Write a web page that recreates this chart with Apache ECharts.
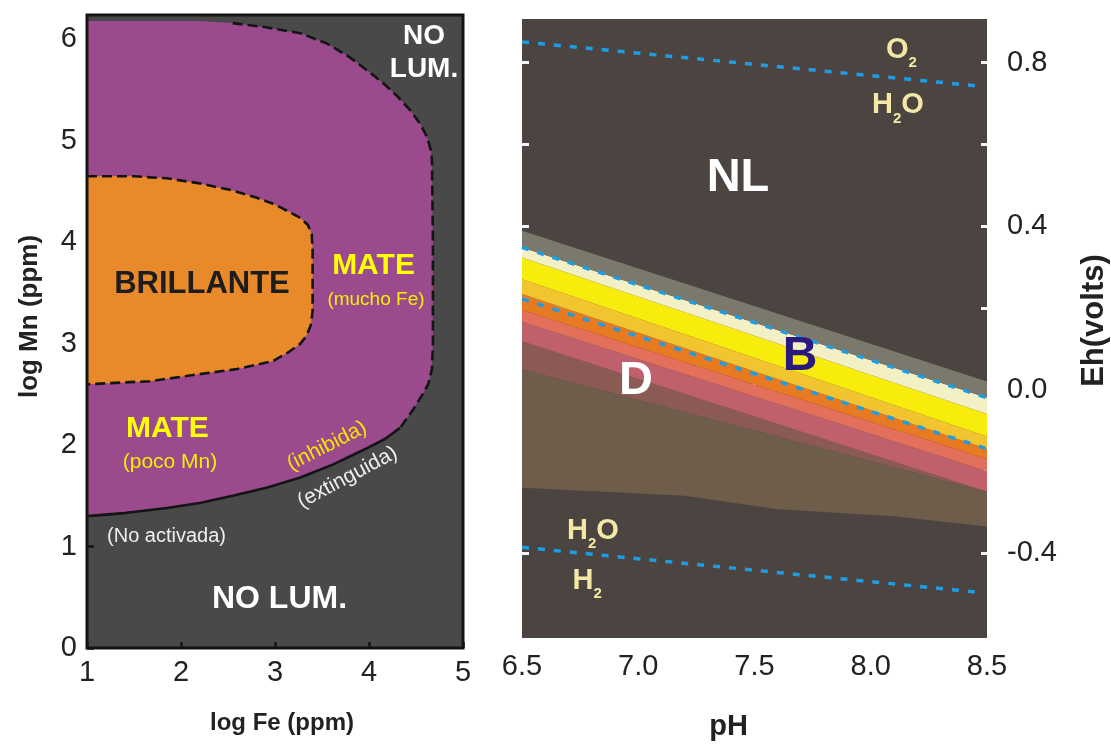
<!DOCTYPE html>
<html><head><meta charset="utf-8">
<script src="https://cdn.jsdelivr.net/npm/echarts@6/dist/echarts.min.js"></script>
<style>html,body{margin:0;padding:0;background:#fff;}#c{width:1111px;height:746px;}</style>
</head><body><div id="c"></div>
<script>
// ---------------- DATA ----------------
// Left panel: log Fe (x) vs log Mn (y)
const feTicks = [1, 2, 3, 4, 5];
const mnTicks = [0, 1, 2, 3, 4, 5, 6];
// MATE (purple) region outline [logFe, logMn]
const mateRegion = [[1,6.18],[2.2,6.18],[2.55,6.16],[2.9,6.12],[3.27,6.06],[3.55,5.96],[3.8,5.82],[4.0,5.68],[4.15,5.57],[4.3,5.44],[4.44,5.3],[4.55,5.16],[4.62,5.03],[4.66,4.9],[4.67,4.8],[4.68,4.0],[4.68,3.0],[4.67,2.75],[4.63,2.6],[4.57,2.5],[4.47,2.35],[4.33,2.17],[4.17,2.06],[3.98,1.97],[3.8,1.89],[3.62,1.81],[3.27,1.68],[2.91,1.58],[2.55,1.5],[2.2,1.43],[1.85,1.38],[1.4,1.33],[1,1.3]];
// BRILLANTE (orange) region outline
const brillanteRegion = [[1,4.65],[1.5,4.65],[1.85,4.63],[2.2,4.58],[2.55,4.51],[2.8,4.44],[2.98,4.38],[3.15,4.3],[3.27,4.24],[3.35,4.17],[3.39,4.08],[3.4,3.92],[3.4,3.32],[3.38,3.18],[3.33,3.07],[3.27,3.0],[3.15,2.92],[2.98,2.83],[2.6,2.75],[2.2,2.7],[1.67,2.63],[1,2.6]];
const mateDashed = mateRegion.slice(2, 22);
const mateSolid = mateRegion.slice(21);

// Right panel: pH (x) vs Eh (y)
const phTicks = [6.5, 7.0, 7.5, 8.0, 8.5];
const ehLabelTicks = [-0.4, 0.0, 0.4, 0.8];
const ehMinorTicks = [-0.4, -0.2, 0.0, 0.2, 0.4, 0.6, 0.8];
// band boundary lines [pH, Eh]
const grayTop    = [[6.5,0.389],[8.5,0.02]];
const creamTop   = [[6.5,0.348],[8.5,-0.02]];
const yellowTop  = [[6.5,0.323],[8.5,-0.06]];
const goldTop    = [[6.5,0.270],[8.5,-0.115]];
const orangeTop  = [[6.5,0.234],[8.5,-0.145]];
const salmonTop  = [[6.5,0.195],[8.5,-0.17]];
const pinkTop    = [[6.5,0.166],[8.5,-0.20]];
const rosyTop    = [[6.5,0.118],[8.5,-0.25]];
const oliveTop   = [[6.5,0.05],[8.5,-0.25]];
const oliveBottom= [[6.5,-0.24],[7.2,-0.26],[7.6,-0.293],[8.1,-0.31],[8.5,-0.335]];
// water stability & band limit lines
const o2Line    = [[6.5,0.851],[8.48,0.742]];
const h2Line    = [[6.5,-0.386],[8.48,-0.497]];
const upperBLine= [[6.5,0.348],[8.5,-0.02]];
const lowerBLine= [[6.5,0.222],[8.5,-0.145]];

// annotations
const leftNotes = [
  {t:'NO\nLUM.', x:4.585, y:5.87, k:'noLumTop'},
  {t:'BRILLANTE', x:2.223, y:3.585, k:'bright'},
  {t:'MATE', x:4.048, y:3.767, k:'mate'},
  {t:'(mucho Fe)', x:4.074, y:3.432, k:'mateSub1'},
  {t:'MATE', x:1.856, y:2.165, k:'mate'},
  {t:'(poco Mn)', x:1.883, y:1.834, k:'mateSub2'},
  {t:'(inhibida)', x:3.553, y:1.992, k:'inhib'},
  {t:'(extinguida)', x:3.771, y:1.681, k:'ext'},
  {t:'(No activada)', x:1.846, y:1.095, k:'noact'},
  {t:'NO LUM.', x:3.048, y:0.478, k:'noLum'}
];
const rightNotes = [
  {t:'NL', x:7.429, y:0.517, k:'big'},
  {t:'B', x:7.696, y:0.080, k:'bigB'},
  {t:'D', x:6.99, y:0.022, k:'big'},
  {t:'{n|O}{s|2}', x:8.132, y:0.825, k:'chem'},
  {t:'{n|H}{s|2}{n|O}', x:8.117, y:0.688, k:'chem'},
  {t:'{n|H}{s|2}{n|O}', x:6.805, y:-0.353, k:'chem'},
  {t:'{n|H}{s|2}', x:6.78, y:-0.476, k:'chem'}
];

// ---------------- STYLE ----------------
const FONT = '"Liberation Sans", Arial, Helvetica, sans-serif';
const CREAM = '#f3e8a6';
const noteStyles = {
  noLumTop: {color:'#ffffff', fontSize:28, fontWeight:'bold', lineHeight:33},
  bright:   {color:'#1d1d1d', fontSize:31, fontWeight:'bold'},
  mate:     {color:'#ffff00', fontSize:30, fontWeight:'bold'},
  mateSub1: {color:'#f4ee00', fontSize:19},
  mateSub2: {color:'#f4ee00', fontSize:21},
  inhib:    {color:'#f4e600', fontSize:21, rotate:27},
  ext:      {color:'#eeeeee', fontSize:21, rotate:28},
  noact:    {color:'#eeeeee', fontSize:20},
  noLum:    {color:'#ffffff', fontSize:32, fontWeight:'bold'},
  big:      {color:'#ffffff', fontSize:47, fontWeight:'bold'},
  bigB:     {color:'#2a1a7e', fontSize:48, fontWeight:'bold'},
  chem:     {color:CREAM, rich:{
               n:{fontSize:29, fontWeight:'bold', color:CREAM, fontFamily:FONT, verticalAlign:'top', padding:[0,0,6,0]},
               s:{fontSize:15, fontWeight:'bold', color:CREAM, fontFamily:FONT, verticalAlign:'bottom'}}}
};

function polySeries(pts, color, xi, yi, z) {
  return {type:'custom', xAxisIndex:xi, yAxisIndex:yi, silent:true, z:z, animation:false,
    data:[[pts[0][0], pts[0][1]]],
    renderItem:(p, api) => ({type:'polygon', shape:{points: pts.map(q => api.coord(q))}, style:{fill:color}})};
}
function bandSeries(top, bottom, color, z) {
  return polySeries(top.concat(bottom.slice().reverse()), color, 1, 1, z);
}
function lineSeries(pts, xi, yi, style, z) {
  return {type:'line', xAxisIndex:xi, yAxisIndex:yi, data:pts, symbol:'none', silent:true, z:z,
    lineStyle:style, animation:false};
}
function notesSeries(notes, xi, yi) {
  return {type:'scatter', xAxisIndex:xi, yAxisIndex:yi, symbolSize:0, silent:true, z:20,
    itemStyle:{opacity:1},
    data: notes.map(n => {
      const st = noteStyles[n.k];
      return {value:[n.x, n.y], itemStyle:{opacity:1}, label:Object.assign({show:true, position:'inside', formatter:n.t,
        fontFamily:FONT, align:'center', verticalAlign:'middle', opacity:1}, st)};
    })};
}
function frameSeries() {
  return {type:'custom', xAxisIndex:0, yAxisIndex:0, silent:true, z:30, data:[[1,0]],
    renderItem:(p, api) => {
      const a = api.coord([feTicks[0], 0]), b = api.coord([feTicks[feTicks.length-1], 6.24]);
      return {type:'rect', shape:{x:a[0], y:b[1], width:b[0]-a[0], height:a[1]-b[1]},
        style:{fill:'none', stroke:'#141414', lineWidth:3}};
    }};
}

const axisLabelBase = {fontFamily:FONT, fontSize:29, color:'#222'};
const option = {
  animation:false,
  backgroundColor:'#ffffff',
  grid:[
    {left:87, top:15, width:376, height:633, show:true, backgroundColor:'#494949', borderWidth:0},
    {left:522, top:19, width:465, height:626, show:true, backgroundColor:'#4c4441', borderWidth:0}
  ],
  xAxis:[
    {gridIndex:0, type:'value', min:1, max:5, interval:1,
     axisLine:{show:false}, splitLine:{show:false},
     axisTick:{inside:true, length:6, lineStyle:{color:'#141414', width:2.5}},
     axisLabel:Object.assign({margin:10, customValues:feTicks}, axisLabelBase),
     name:'log Fe (ppm)', nameLocation:'middle', nameGap:63,
     nameTextStyle:{fontFamily:FONT, fontSize:24, fontWeight:'bold', color:'#222', padding:[0,0,0,14]}},
    {gridIndex:1, type:'value', min:6.5, max:8.5, interval:0.5,
     axisLine:{show:false}, splitLine:{show:false},
     axisTick:{inside:true, length:6, customValues:phTicks.slice(1,-1), lineStyle:{color:'#dcdcdc', width:3}},
     axisLabel:Object.assign({margin:14, customValues:phTicks, formatter:v => v.toFixed(1)}, axisLabelBase),
     name:'pH', nameLocation:'middle', nameGap:74,
     nameTextStyle:{fontFamily:FONT, fontSize:29, fontWeight:'bold', color:'#222', padding:[0,52,0,0]}},
  ],
  yAxis:[
    {gridIndex:0, type:'value', min:0, max:6.24,
     axisLine:{show:false}, splitLine:{show:false},
     axisTick:{inside:true, length:7, customValues:mnTicks, lineStyle:{color:'#141414', width:2.5}},
     axisLabel:Object.assign({margin:10, customValues:mnTicks}, axisLabelBase),
     name:'log Mn (ppm)', nameLocation:'middle', nameGap:44, nameRotate:90,
     nameTextStyle:{fontFamily:FONT, fontSize:26, fontWeight:'bold', color:'#222', padding:[0,0,0,30]}},
    {gridIndex:1, type:'value', position:'right', min:-0.608, max:0.907,
     axisLine:{show:false}, splitLine:{show:false},
     axisTick:{inside:true, length:6, customValues:ehMinorTicks, lineStyle:{color:'#f6f6f6', width:3}},
     axisLabel:Object.assign({margin:20, customValues:ehLabelTicks, formatter:v => v.toFixed(1)}, axisLabelBase),
     name:'Eh(volts)', nameLocation:'middle', nameGap:92, nameRotate:90,
     nameTextStyle:{fontFamily:FONT, fontSize:31, fontWeight:'bold', color:'#222', padding:[0,0,0,16]}},
    {gridIndex:1, type:'value', position:'left', min:-0.608, max:0.907,
     axisLine:{show:false}, splitLine:{show:false}, axisLabel:{show:false},
     axisTick:{inside:true, length:7, customValues:ehMinorTicks, lineStyle:{color:'#f6f6f6', width:3}}}
  ],
  series:[
    // left panel
    polySeries(mateRegion, '#9a4a8d', 0, 0, 2),
    polySeries(brillanteRegion, '#e98a2a', 0, 0, 3),
    lineSeries(mateDashed, 0, 0, {color:'#141414', width:2.6, type:[10,5]}, 5),
    lineSeries(mateSolid, 0, 0, {color:'#141414', width:2.6}, 5),
    lineSeries(brillanteRegion.slice(0), 0, 0, {color:'#141414', width:2.6, type:[10,5]}, 5),
    frameSeries(),
    notesSeries(leftNotes, 0, 0),
    // right panel bands
    bandSeries(oliveTop, oliveBottom, '#6d5d4a', 2),
    bandSeries(rosyTop, oliveTop, '#8c5a55', 3),
    bandSeries(pinkTop, rosyTop, '#c0606c', 3),
    bandSeries(salmonTop, pinkTop, '#e2705a', 3),
    bandSeries(orangeTop, salmonTop, '#e87b22', 3),
    bandSeries(goldTop, orangeTop, '#f2c430', 3),
    bandSeries(yellowTop, goldTop, '#f8ec0c', 3),
    bandSeries(creamTop, yellowTop, '#f4f0c6', 3),
    bandSeries(grayTop, creamTop, '#7a796b', 3),
    lineSeries(o2Line, 1, 1, {color:'#1e9de2', width:3.5, type:[7,9]}, 6),
    lineSeries(h2Line, 1, 1, {color:'#1e9de2', width:3.5, type:[7,9]}, 6),
    lineSeries(upperBLine, 1, 1, {color:'#1e9de2', width:3.5, type:[7,9]}, 6),
    lineSeries(lowerBLine, 1, 1, {color:'#1e9de2', width:3.5, type:[7,9]}, 6),
    notesSeries(rightNotes, 1, 1)
  ]
};
const chart = echarts.init(document.getElementById('c'), null, {renderer:'canvas'});
chart.setOption(option);
</script></body></html>
